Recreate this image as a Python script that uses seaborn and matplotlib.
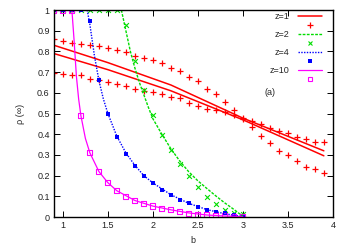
import numpy as np
import pandas as pd
import matplotlib
matplotlib.use("Agg")
import matplotlib.pyplot as plt
import seaborn as sns
from matplotlib.lines import Line2D

# ---------------- data ----------------
b_pts = [0.9, 1.0, 1.1, 1.2, 1.3, 1.4, 1.5, 1.6, 1.7, 1.8, 1.9, 2.0, 2.1, 2.2, 2.3,
         2.4, 2.5, 2.6, 2.7, 2.8, 2.9, 3.0, 3.1, 3.2, 3.3, 3.4, 3.5, 3.6, 3.7, 3.8, 3.9]

# z=1 : two bands of '+' points
z1_upper = [0.858, 0.850, 0.843, 0.838, 0.832, 0.827, 0.818, 0.808, 0.795, 0.778, 0.770,
            0.759, 0.746, 0.722, 0.705, 0.678, 0.655, 0.618, 0.596, 0.557, 0.517, 0.477,
            0.462, 0.448, 0.432, 0.418, 0.405, 0.388, 0.379, 0.364, 0.364]
z1_lower = [0.697, 0.692, 0.688, 0.688, 0.668, 0.660, 0.651, 0.642, 0.632, 0.617, 0.608,
            0.603, 0.594, 0.582, 0.573, 0.549, 0.538, 0.522, 0.518, 0.507, 0.492, 0.472,
            0.436, 0.391, 0.356, 0.317, 0.299, 0.272, 0.243, 0.231, 0.214]
# z=1 : two fitted lines
z1_fit_b = [0.9, 1.5, 2.2, 3.0, 3.9]
z1_fit_upper = [0.830, 0.746, 0.638, 0.478, 0.320]
z1_fit_lower = [0.790, 0.712, 0.610, 0.470, 0.296]

# z=2
z2_b = [0.9, 1.0, 1.1, 1.2, 1.3, 1.4, 1.5, 1.6, 1.7, 1.8, 1.9, 2.0, 2.1, 2.2, 2.3, 2.4,
        2.5, 2.6, 2.7, 2.8, 2.9, 3.0]
z2_pts = [1.0, 1.0, 1.0, 1.0, 1.0, 1.0, 1.0, 1.0, 0.928, 0.752, 0.614, 0.493, 0.398, 0.322,
          0.257, 0.198, 0.145, 0.098, 0.065, 0.036, 0.019, 0.014]
z2_curve_b = [1.65, 1.7, 1.75, 1.8, 1.85, 1.9, 1.95, 2.0, 2.1, 2.2, 2.3, 2.4, 2.5, 2.6,
              2.7, 2.8, 2.9, 2.95, 3.0]
z2_curve = [1.0, 0.90, 0.80, 0.72, 0.65, 0.59, 0.53, 0.475, 0.40, 0.33, 0.27, 0.218,
            0.175, 0.138, 0.102, 0.068, 0.037, 0.020, 0.006]

# z=4
z4_b = [0.9, 1.0, 1.1, 1.2, 1.3, 1.4, 1.5, 1.6, 1.7, 1.8, 1.9, 2.0, 2.1, 2.2, 2.3, 2.4,
        2.5, 2.6, 2.7, 2.8, 2.9, 3.0]
z4_pts = [1.0, 1.0, 1.0, 1.0, 0.948, 0.662, 0.496, 0.385, 0.303, 0.246, 0.198, 0.164,
          0.132, 0.106, 0.083, 0.066, 0.048, 0.034, 0.026, 0.018, 0.010, 0.006]
z4_curve_b = [1.27, 1.3, 1.35, 1.4, 1.45, 1.5, 1.6, 1.7, 1.8, 1.9, 2.0, 2.2, 2.4, 2.6,
              2.8, 3.0]
z4_curve = [1.0, 0.93, 0.78, 0.66, 0.57, 0.50, 0.39, 0.31, 0.25, 0.20, 0.165, 0.108,
            0.066, 0.036, 0.016, 0.002]

# z=10
z10_b = [0.9, 1.0, 1.1, 1.2, 1.3, 1.4, 1.5, 1.6, 1.7, 1.8, 1.9, 2.0, 2.1, 2.2, 2.3, 2.4,
         2.5, 2.6, 2.7, 2.8, 2.9, 3.0]
z10_pts = [1.0, 1.0, 1.0, 0.490, 0.311, 0.219, 0.166, 0.127, 0.100, 0.081, 0.066, 0.053,
           0.043, 0.036, 0.026, 0.018, 0.013, 0.010, 0.006, 0.005, 0.004, 0.003]
z10_curve_b = [1.1, 1.125, 1.15, 1.175, 1.2, 1.25, 1.3, 1.4, 1.5, 1.6, 1.8, 2.0, 2.2,
               2.4, 2.6, 2.8, 3.0]
z10_curve = [1.0, 0.85, 0.68, 0.57, 0.49, 0.38, 0.31, 0.22, 0.166, 0.127, 0.080, 0.053,
             0.035, 0.020, 0.010, 0.005, 0.002]

x_ticks = [1, 1.5, 2, 2.5, 3, 3.5, 4]
x_tick_labels = ["1", "1.5", "2", "2.5", "3", "3.5", "4"]
y_ticks = [0, 0.1, 0.2, 0.3, 0.4, 0.5, 0.6, 0.7, 0.8, 0.9, 1]
y_tick_labels = ["0", "0.1", "0.2", "0.3", "0.4", "0.5", "0.6", "0.7", "0.8", "0.9", "1"]
legend_labels = ["z=1", "z=2", "z=4", "z=10"]

# ---------------- style ----------------
sns.set_style("ticks")
plt.rcParams["font.family"] = ["Liberation Sans", "DejaVu Sans"]
plt.rcParams["font.size"] = 6.5
plt.rcParams["xtick.direction"] = "in"
plt.rcParams["ytick.direction"] = "in"

RED = "#ff0000"
GREEN = "#00dd00"
BLUE = "#0000ff"
MAG = "#ff00ff"

fig = plt.figure(figsize=(3.5, 2.45), dpi=100)
ax = fig.add_axes([0.154, 0.114, 0.797, 0.845])

# z=1
sns.lineplot(x=z1_fit_b, y=z1_fit_upper, ax=ax, color=RED, lw=1.1, sort=False)
sns.lineplot(x=z1_fit_b, y=z1_fit_lower, ax=ax, color=RED, lw=1.1, sort=False)
sns.scatterplot(x=b_pts, y=z1_upper, ax=ax, marker="+", color=RED, s=16, linewidth=0.9)
sns.scatterplot(x=b_pts, y=z1_lower, ax=ax, marker="+", color=RED, s=16, linewidth=0.9)

# z=2
sns.lineplot(x=z2_curve_b, y=z2_curve, ax=ax, color=GREEN, lw=1.0, linestyle=(0, (2, 1)), sort=False)
sns.scatterplot(x=z2_b, y=z2_pts, ax=ax, marker="x", color=GREEN, s=12, linewidth=0.8)

# z=4
sns.lineplot(x=z4_curve_b, y=z4_curve, ax=ax, color=BLUE, lw=1.0, linestyle=(0, (1, 1)), sort=False)
sns.scatterplot(x=z4_b, y=z4_pts, ax=ax, marker="s", color=BLUE, s=9, linewidth=0)

# z=10
sns.lineplot(x=z10_curve_b, y=z10_curve, ax=ax, color=MAG, lw=0.9, sort=False)
sns.scatterplot(x=z10_b, y=z10_pts, ax=ax, marker="s", facecolors="none", edgecolors=MAG,
                s=14, linewidth=0.8)

ax.set_xlim(0.9, 4.0)
ax.set_ylim(0, 1.0)
ax.set_xticks(x_ticks)
ax.set_xticklabels(x_tick_labels)
ax.set_yticks(y_ticks)
ax.set_yticklabels(y_tick_labels)
ax.tick_params(axis="both", which="major", length=4, width=0.7, top=True, right=True,
               labelsize=6.5, pad=3, color="black", labelcolor="#222222")
for sp in ax.spines.values():
    sp.set_visible(True)
    sp.set_linewidth(1.0)
    sp.set_color("black")

ax.set_xlabel("b", fontsize=6.5, labelpad=4)
ax.set_ylabel("ρ (∞)", fontsize=6.5, labelpad=9)

ax.text(0.774, 0.60, "(a)", transform=ax.transAxes, ha="center", va="center", fontsize=6.5)

# gnuplot-like legend: line sample row, then marker row
handles = [
    Line2D([], [], color=RED, lw=1.1),
    Line2D([], [], color=RED, marker="+", ls="none", ms=4, mew=0.9),
    Line2D([], [], color=GREEN, lw=1.0, ls=(0, (2, 1))),
    Line2D([], [], color=GREEN, marker="x", ls="none", ms=3.5, mew=0.8),
    Line2D([], [], color=BLUE, lw=1.0, ls=(0, (1, 1))),
    Line2D([], [], color=BLUE, marker="s", ls="none", ms=3, mew=0),
    Line2D([], [], color=MAG, lw=0.9),
    Line2D([], [], color=MAG, marker="s", ls="none", ms=3.5, mfc="none", mew=0.8),
]
labels = [legend_labels[0], "", legend_labels[1], "", legend_labels[2], "", legend_labels[3], ""]
leg = ax.legend(handles, labels, loc="upper right", bbox_to_anchor=(0.961, 0.99),
                frameon=False, markerfirst=False, borderpad=0, borderaxespad=0,
                handlelength=2.7, handletextpad=0.9, labelspacing=0.0, fontsize=6.5)

fig.savefig("out.png", dpi=100)
